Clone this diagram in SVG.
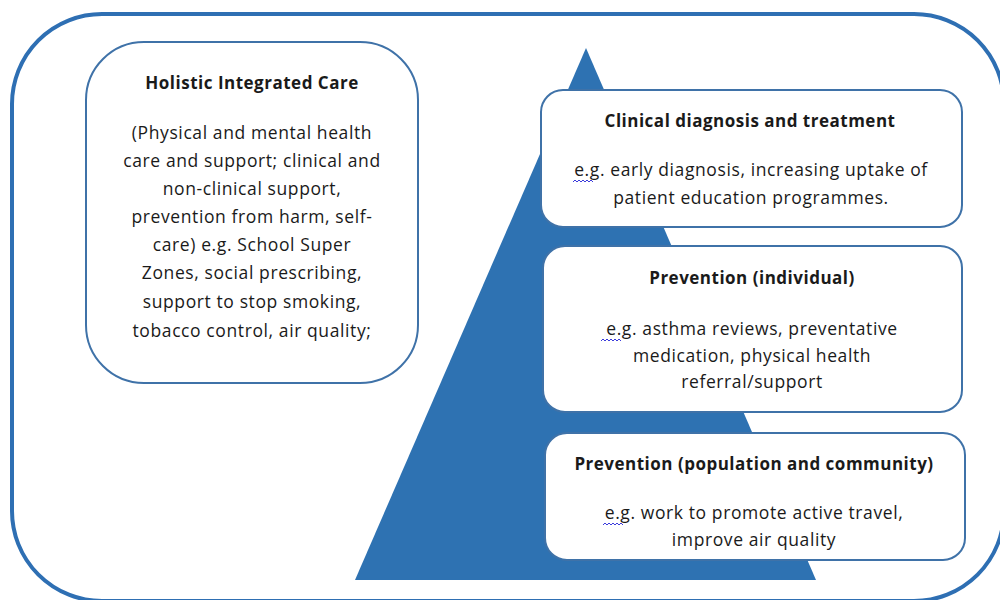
<svg xmlns="http://www.w3.org/2000/svg" width="1000" height="600" viewBox="0 0 1000 600">
<style>
.box{fill:#fff;stroke:#3f72a8;stroke-width:2}
.t{font-family:"Open Sans","Liberation Sans",sans-serif;font-size:17.5px;letter-spacing:0.6px;fill:#1a1a1a;text-anchor:middle}
.b{font-weight:bold;font-size:17px;letter-spacing:0.5px}
.sq{fill:none;stroke:#3b3bdc;stroke-width:1}
</style>
<rect width="1000" height="600" fill="#fff"/>
<g id="frame"><rect x="12" y="14" width="992" height="587" rx="90" fill="none" stroke="#2e6fb3" stroke-width="4"/></g>
<g id="pyramid"><polygon points="586,48 355,580 816,580" fill="#2e72b2"/></g>
<g id="holistic">
<rect class="box" x="86" y="42" width="332" height="341" rx="58"/>
<text class="t b" x="252" y="89">Holistic Integrated Care</text>
<text class="t" x="252" y="139">(Physical and mental health</text>
<text class="t" x="252" y="167">care and support; clinical and</text>
<text class="t" x="252" y="195">non-clinical support,</text>
<text class="t" x="252" y="223">prevention from harm, self-</text>
<text class="t" x="252" y="251">care) e.g. School Super</text>
<text class="t" x="252" y="279">Zones, social prescribing,</text>
<text class="t" x="252" y="308">support to stop smoking,</text>
<text class="t" x="252" y="337">tobacco control, air quality;</text>
</g>
<g id="clinical">
<rect class="box" x="541" y="90" width="421" height="137" rx="22"/>
<text class="t b" x="750" y="127">Clinical diagnosis and treatment</text>
<text class="t" x="751" y="176">e.g. early diagnosis, increasing uptake of</text>
<text class="t" x="751" y="204">patient education programmes.</text>
<path class="sq" d="M573,182 l2,-2 l2,2 l2,-2 l2,2 l2,-2 l2,2 l2,-2 l2,2 l2,-2 l2,2"/>
</g>
<g id="individual">
<rect class="box" x="543" y="246" width="419" height="166" rx="22"/>
<text class="t b" x="752" y="284">Prevention (individual)</text>
<text class="t" x="752" y="335">e.g. asthma reviews, preventative</text>
<text class="t" x="752" y="362">medication, physical health</text>
<text class="t" x="752" y="388">referral/support</text>
<path class="sq" d="M601,341 l2,-2 l2,2 l2,-2 l2,2 l2,-2 l2,2 l2,-2 l2,2 l2,-2 l2,2"/>
</g>
<g id="population">
<rect class="box" x="545" y="433" width="420" height="127" rx="22"/>
<text class="t b" x="754" y="470">Prevention (population and community)</text>
<text class="t" x="754" y="519">e.g. work to promote active travel,</text>
<text class="t" x="754" y="546">improve air quality</text>
<path class="sq" d="M603,525 l2,-2 l2,2 l2,-2 l2,2 l2,-2 l2,2 l2,-2 l2,2 l2,-2 l2,2"/>
</g>
<g id="connectors"></g>
</svg>
